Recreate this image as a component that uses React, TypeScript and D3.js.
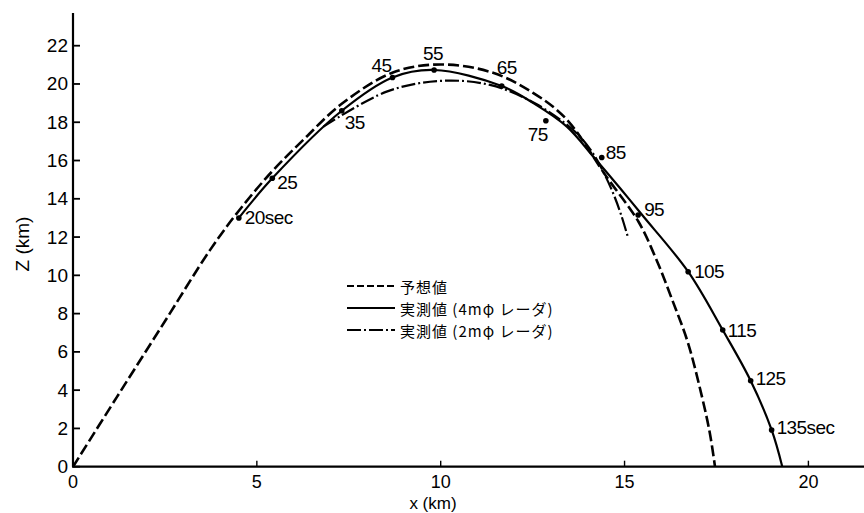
import React, { useEffect, useRef } from "react";
import * as d3 from "d3";

// predicted trajectory (予想値), x / z in km
const predictedX = [0, 1.2, 2.5, 3.73, 4.5, 5.4, 6.3, 7.3, 8.7, 10.0, 11.4, 12.5, 13.4, 14.51, 15.38, 15.87, 16.3, 16.72, 17.1, 17.32, 17.46];
const predictedZ = [0, 3.66, 7.6, 11.33, 13.35, 15.4, 17.15, 18.95, 20.6, 21.02, 20.6, 19.55, 18.2, 15.15, 12.8, 10.8, 8.7, 6.5, 3.7, 1.75, 0];

// measured, 4m radar (solid)
const radar4X = [4.51, 5.42, 7.31, 8.69, 9.82, 11.66, 12.52, 13.43, 14.17, 14.88, 15.48, 16.73, 17.67, 18.43, 19.0, 19.29];
const radar4Z = [13.0, 15.07, 18.6, 20.34, 20.73, 19.89, 19.0, 17.77, 16.16, 14.55, 13.15, 10.19, 7.14, 4.49, 1.92, 0];

// measured, 2m radar (dash-dot)
const radar2X = [6.81, 8.53, 9.98, 11.34, 12.6, 13.7, 14.2, 14.45, 14.69, 14.9, 15.1];
const radar2Z = [17.77, 19.6, 20.16, 19.95, 18.95, 17.42, 16.2, 15.3, 14.29, 13.2, 11.94];

// timed points on the 4m radar track
const timeLabels = ["20sec", "25", "35", "45", "55", "65", "75", "85", "95", "105", "115", "125", "135sec"];
const pointX = [4.51, 5.42, 7.31, 8.69, 9.82, 11.66, 12.86, 14.38, 15.37, 16.73, 17.67, 18.43, 19.0];
const pointZ = [13.0, 15.07, 18.6, 20.34, 20.73, 19.89, 18.08, 16.16, 13.15, 10.19, 7.14, 4.49, 1.92];

const xTicks = [0, 5, 10, 15, 20];
const zTicks = [0, 2, 4, 6, 8, 10, 12, 14, 16, 18, 20, 22];

const legendLabels = ["予想値", "実測値 (4mφ レーダ)", "実測値 (2mφ レーダ)"];

// label placement relative to its point (px)
const labelOffsets = [
  [6, 0], [5, 4], [3, 12], [-21, -12], [-11, -17], [-5, -19], [-18, 14],
  [4, -5], [6, -6], [6, 0], [5, 0], [5, -2], [5, -2],
];

const FONT = "'Liberation Sans', Arial, sans-serif";
const JP_FONT = "'Noto Sans CJK JP', 'Liberation Sans', sans-serif";

const TrajectoryChart = () => {
  const svgRef = useRef<SVGSVGElement>(null);

  useEffect(() => {
    const svg = d3.select(svgRef.current);
    svg.selectAll("*").remove();

    const x = d3.scaleLinear().domain([0, 20]).range([73, 808.4]);
    const y = d3.scaleLinear().domain([0, 22]).range([466.7, 45.7]);

    const zip = (xs: number[], zs: number[]) => xs.map((v, i) => [v, zs[i]] as [number, number]);
    const line = d3
      .line<[number, number]>()
      .x((d) => x(d[0]))
      .y((d) => y(d[1]))
      .curve(d3.curveCatmullRom.alpha(0.5));

    // axes
    svg.append("line")
      .attr("x1", 73).attr("x2", 73).attr("y1", 13).attr("y2", y(0))
      .attr("stroke", "#000").attr("stroke-width", 2.2);
    svg.append("line")
      .attr("x1", 72).attr("x2", 864).attr("y1", y(0)).attr("y2", y(0))
      .attr("stroke", "#000").attr("stroke-width", 2.2);

    svg.append("g")
      .selectAll("line")
      .data(zTicks)
      .enter()
      .append("line")
      .attr("x1", 73).attr("x2", 80)
      .attr("y1", (d) => y(d)).attr("y2", (d) => y(d))
      .attr("stroke", "#000").attr("stroke-width", 1.8);

    svg.append("g")
      .selectAll("text")
      .data(zTicks)
      .enter()
      .append("text")
      .attr("x", 68)
      .attr("y", (d) => y(d))
      .attr("text-anchor", "end")
      .attr("dominant-baseline", "central")
      .attr("font-family", FONT)
      .attr("font-size", 19)
      .text((d) => d);

    svg.append("g")
      .selectAll("line")
      .data(xTicks.slice(1))
      .enter()
      .append("line")
      .attr("x1", (d) => x(d)).attr("x2", (d) => x(d))
      .attr("y1", y(0)).attr("y2", y(0) - 6)
      .attr("stroke", "#000").attr("stroke-width", 1.4);

    svg.append("g")
      .selectAll("text")
      .data(xTicks)
      .enter()
      .append("text")
      .attr("x", (d) => x(d))
      .attr("y", 482)
      .attr("text-anchor", "middle")
      .attr("dominant-baseline", "central")
      .attr("font-family", FONT)
      .attr("font-size", 18)
      .text((d) => d);

    svg.append("text")
      .attr("x", 433).attr("y", 503)
      .attr("text-anchor", "middle")
      .attr("dominant-baseline", "central")
      .attr("font-family", FONT)
      .attr("font-size", 17)
      .text("x (km)");

    svg.append("text")
      .attr("transform", "translate(22,244) rotate(-90)")
      .attr("text-anchor", "middle")
      .attr("dominant-baseline", "central")
      .attr("font-family", FONT)
      .attr("font-size", 19)
      .text("Z (km)");

    // curves
    svg.append("path")
      .attr("d", line(zip(predictedX, predictedZ)))
      .attr("fill", "none").attr("stroke", "#000")
      .attr("stroke-width", 2.6).attr("stroke-dasharray", "11,4");
    svg.append("path")
      .attr("d", line(zip(radar4X, radar4Z)))
      .attr("fill", "none").attr("stroke", "#000")
      .attr("stroke-width", 2.2);
    svg.append("path")
      .attr("d", line(zip(radar2X, radar2Z)))
      .attr("fill", "none").attr("stroke", "#000")
      .attr("stroke-width", 2.2).attr("stroke-dasharray", "14,3,2,3");

    // timed points
    svg.append("g")
      .selectAll("circle")
      .data(timeLabels)
      .enter()
      .append("circle")
      .attr("cx", (_, i) => x(pointX[i]))
      .attr("cy", (_, i) => y(pointZ[i]))
      .attr("r", 2.8)
      .attr("fill", "#000");

    svg.append("g")
      .selectAll("text")
      .data(timeLabels)
      .enter()
      .append("text")
      .attr("x", (_, i) => x(pointX[i]) + labelOffsets[i][0])
      .attr("y", (_, i) => y(pointZ[i]) + labelOffsets[i][1])
      .attr("dominant-baseline", "central")
      .attr("font-family", FONT)
      .attr("font-size", 19)
      .attr("letter-spacing", -0.6)
      .text((d) => d);

    // legend
    const legendDash = ["7,3", null, "14,3,2,3"];
    const legend = svg.append("g").attr("transform", "translate(347,286)");
    legendLabels.forEach((label, i) => {
      const row = legend.append("g").attr("transform", `translate(0,${i * 22})`);
      const seg = row.append("line")
        .attr("x1", 0).attr("x2", 48).attr("y1", 0).attr("y2", 0)
        .attr("stroke", "#000").attr("stroke-width", 2.2);
      if (legendDash[i]) seg.attr("stroke-dasharray", legendDash[i]);
      row.append("text")
        .attr("x", 53).attr("y", 0)
        .attr("dominant-baseline", "central")
        .attr("font-family", JP_FONT)
        .attr("font-size", 15)
        .attr("letter-spacing", 1)
        .text(label);
    });
  }, []);

  return (
    <svg
      ref={svgRef}
      width={864}
      height={513}
      style={{ position: "absolute", left: 0, top: 0, background: "#fff" }}
    />
  );
};

export default function App() {
  return <TrajectoryChart />;
}
